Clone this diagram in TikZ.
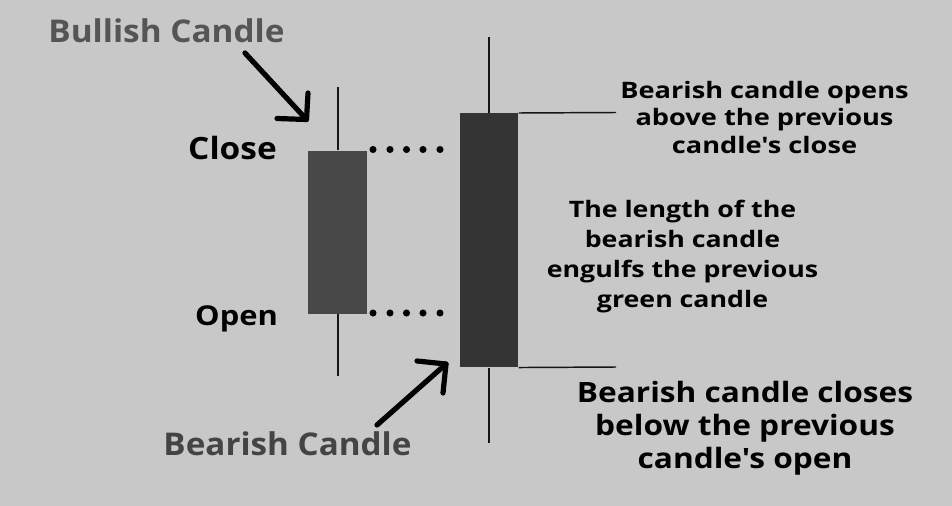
\documentclass[tikz,border=0pt]{standalone}
\usepackage{fontspec}
\setmainfont{Open Sans}[Ligatures=TeXOff]
\definecolor{bg}{RGB}{200,200,200}
\definecolor{bullc}{RGB}{72,72,72}
\definecolor{bearc}{RGB}{52,52,52}
\definecolor{wickc}{RGB}{22,22,22}
\definecolor{lblA}{RGB}{85,85,85}
\definecolor{lblB}{RGB}{68,68,68}
\begin{document}
\begin{tikzpicture}[x=0.75pt,y=-0.75pt,
  body/.style={draw=none,rectangle,inner sep=0pt,anchor=north west},
  wick/.style={draw=wickc,line width=2pt},
  guide/.style={draw=wickc,line width=1.1pt},
  pointer/.style={draw=black,line width=3.9pt,line cap=round,line join=round},
  dotc/.style={circle,fill=black,inner sep=0pt,minimum size=5.3pt},
  lbl/.style={font=\bfseries,inner sep=0pt,anchor=base,transform shape},
  note/.style={font=\bfseries,inner sep=0pt,anchor=base,align=center,transform shape}]
\fill[bg] (0,0) rectangle (952,506);
\useasboundingbox (0,0) rectangle (952,506);
% candles
\node[body,fill=bullc,minimum width=44.25pt,minimum height=122.25pt] (bull) at (308,150.5) {};
\node[body,fill=bearc,minimum width=43.5pt,minimum height=190.5pt] (bear) at (460,113) {};
\coordinate (bullhi) at (338,87);
\coordinate (bulllo) at (338,376);
\coordinate (bearhi) at (489,37);
\coordinate (bearlo) at (489,443);
\draw[wick] (bullhi) -- (bullhi |- bull.north);
\draw[wick] (bulllo) -- (bulllo |- bull.south);
\draw[wick] (bearhi) -- (bearhi |- bear.north);
\draw[wick] (bearlo) -- (bearlo |- bear.south);
% guides
\coordinate (gtop) at (616,112.5);
\coordinate (gbot) at (616,367);
\draw[guide] (bear.north east) -- (gtop);
\draw[guide] (bear.south east) -- (gbot);
% dots
\foreach \x [count=\i] in {373,390,406.5,423,440}{
  \node[dotc] (du\i) at (\x,149.5) {};
  \node[dotc] (dl\i) at (\x,313) {};
}
% arrows
\coordinate (a1s) at (245,53);
\coordinate (a1c) at (306.5,119.5);
\coordinate (a1h) at (277,118.5);
\coordinate (a1v) at (308,93);
\draw[pointer] (a1s) -- (a1c);
\draw[pointer] (a1h) -- (a1c) -- (a1v);
\coordinate (a2s) at (377,425);
\coordinate (a2c) at (446,364);
\coordinate (a2h) at (417,361);
\coordinate (a2v) at (443,393);
\draw[pointer] (a2s) -- (a2c);
\draw[pointer] (a2h) -- (a2c) -- (a2v);
% labels
\node[lbl,xscale=1.064,text=lblA,font=\bfseries\fontsize{23.5}{28}\selectfont] (tbull) at (166.5,43) {Bullish Candle};
\node[lbl,xscale=1.09,text=black,font=\bfseries\fontsize{23}{28}\selectfont] (tclose) at (232.5,160) {Close};
\node[lbl,xscale=1.13,text=black,font=\bfseries\fontsize{20.5}{25}\selectfont] (topen) at (236.5,325) {Open};
\node[lbl,xscale=1.06,text=lblB,font=\bfseries\fontsize{23.5}{28}\selectfont] (tbear) at (287.5,455) {Bearish Candle};
\node[note,xscale=1.2,font=\bfseries\fontsize{17}{20.4}\selectfont] (nopen) at (764.5,153) {Bearish candle opens\\above the previous\\candle's close};
\node[note,xscale=1.18,font=\bfseries\fontsize{17}{22.5}\selectfont] (nlen) at (682.5,307) {The length of the\\bearish candle\\engulfs the previous\\green candle};
\node[note,xscale=1.13,font=\bfseries\fontsize{21}{24.4}\selectfont] (nclose) at (745,468) {Bearish candle closes\\below the previous\\candle's open};
\end{tikzpicture}
\end{document}
